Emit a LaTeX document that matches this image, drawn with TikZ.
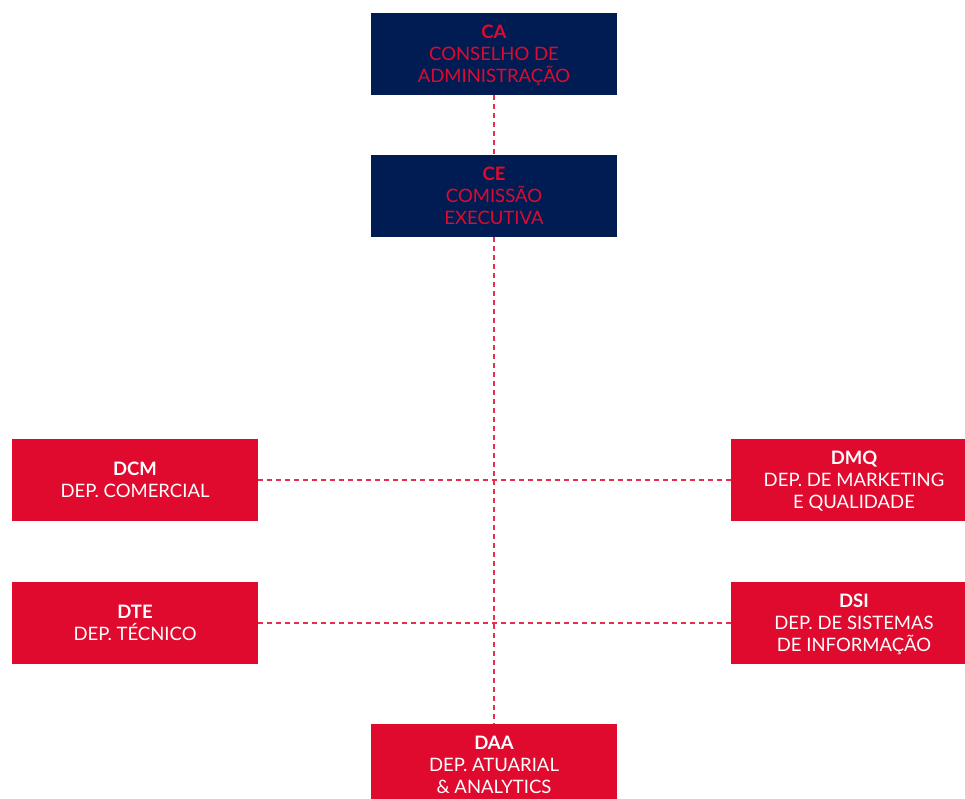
\documentclass[tikz,border=0pt]{standalone}
\usepackage{fontspec}
\setmainfont{Lato}
\definecolor{navyCA}{HTML}{011C52}
\definecolor{redCA}{HTML}{DF0A2E}
\tikzset{
  orgbox/.style={minimum width=246pt, minimum height=82pt, inner sep=0pt,
    align=center, text depth=0pt, font=\fontsize{18.5}{22}\selectfont},
  topbox/.style={orgbox, fill=navyCA, text=redCA},
  depbox/.style={orgbox, fill=redCA, text=white},
  linkline/.style={redCA!85, line width=1.2pt, dash pattern=on 5pt off 4pt}
}
\begin{document}
\begin{tikzpicture}[x=1pt, y=-1pt]
  \useasboundingbox (0,0) rectangle (965,798);

  % --- 1. órgãos de administração ---
  \node[topbox] (CA) at (494, 54) {\textbf{CA}\\CONSELHO DE\\ADMINISTRAÇÃO};
  \node[topbox] (CE) at (494, 196) {\textbf{CE}\\COMISSÃO\\EXECUTIVA};

  % --- 2. departamentos ---
  \node[depbox] (DCM) at (135, 480) {\textbf{DCM}\\DEP. COMERCIAL};
  \node[depbox] (DMQ) at (854, 480) {\textbf{DMQ}\\DEP. DE MARKETING\\E QUALIDADE};
  \node[depbox] (DTE) at (135, 623) {\textbf{DTE}\\DEP. TÉCNICO};
  \node[depbox] (DSI) at (854, 623) {\textbf{DSI}\\DEP. DE SISTEMAS\\DE INFORMAÇÃO};
  \node[depbox] (DAA) at (494, 765) {\textbf{DAA}\\DEP. ATUARIAL\\\& ANALYTICS};

  % --- 3. ligações ---
  \draw[linkline] (CA) -- (CE);
  \draw[linkline] (CE) -- (DAA);
  \draw[linkline] (DCM) -- (DMQ);
  \draw[linkline] (DTE) -- (DSI);

\end{tikzpicture}
\end{document}
